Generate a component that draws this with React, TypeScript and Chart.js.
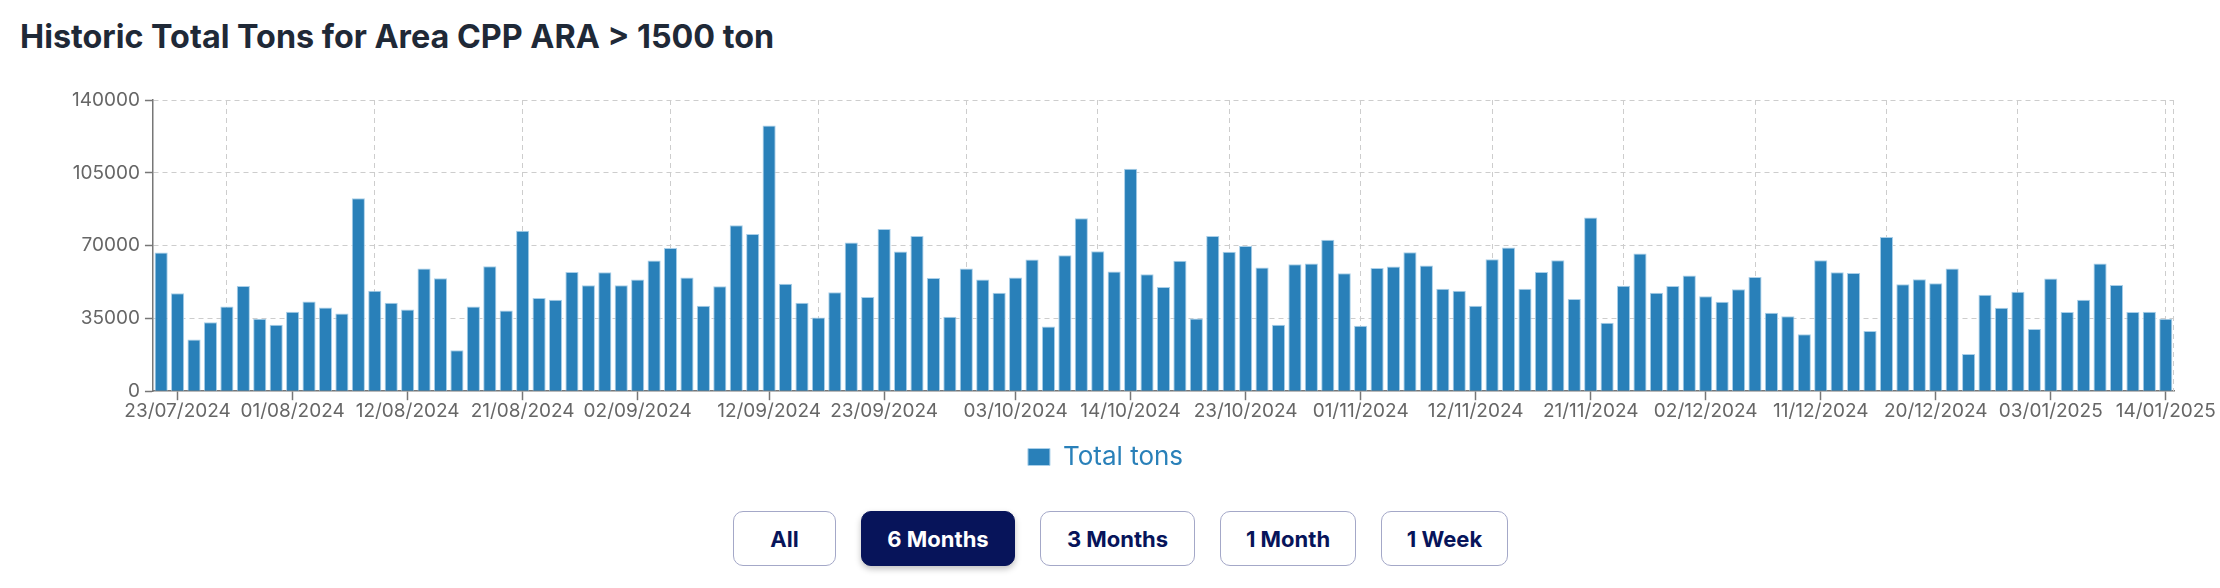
import React, { useEffect, useRef } from 'react';
import { Chart, registerables } from 'chart.js';

Chart.register(...registerables);

// business days shown on the category axis
const dates = [
  '22/07/2024', '23/07/2024', '24/07/2024', '25/07/2024', '26/07/2024',
  '29/07/2024', '30/07/2024', '31/07/2024', '01/08/2024', '02/08/2024',
  '05/08/2024', '06/08/2024', '07/08/2024', '08/08/2024', '09/08/2024',
  '12/08/2024', '13/08/2024', '14/08/2024', '15/08/2024', '16/08/2024',
  '19/08/2024', '20/08/2024', '21/08/2024', '22/08/2024', '23/08/2024',
  '27/08/2024', '28/08/2024', '29/08/2024', '30/08/2024',
  '02/09/2024', '03/09/2024', '04/09/2024', '05/09/2024', '06/09/2024',
  '09/09/2024', '10/09/2024', '11/09/2024', '12/09/2024', '13/09/2024',
  '16/09/2024', '17/09/2024', '18/09/2024', '19/09/2024', '20/09/2024',
  '23/09/2024', '24/09/2024', '25/09/2024', '26/09/2024', '27/09/2024',
  '30/09/2024', '01/10/2024', '02/10/2024', '03/10/2024', '04/10/2024',
  '07/10/2024', '08/10/2024', '09/10/2024', '10/10/2024', '11/10/2024',
  '14/10/2024', '15/10/2024', '16/10/2024', '17/10/2024', '18/10/2024',
  '21/10/2024', '22/10/2024', '23/10/2024', '24/10/2024', '25/10/2024',
  '28/10/2024', '29/10/2024', '30/10/2024', '31/10/2024', '01/11/2024',
  '04/11/2024', '05/11/2024', '06/11/2024', '07/11/2024', '08/11/2024',
  '11/11/2024', '12/11/2024', '13/11/2024', '14/11/2024', '15/11/2024',
  '18/11/2024', '19/11/2024', '20/11/2024', '21/11/2024', '22/11/2024',
  '25/11/2024', '26/11/2024', '27/11/2024', '28/11/2024', '29/11/2024',
  '02/12/2024', '03/12/2024', '04/12/2024', '05/12/2024', '06/12/2024',
  '09/12/2024', '10/12/2024', '11/12/2024', '12/12/2024', '13/12/2024',
  '16/12/2024', '17/12/2024', '18/12/2024', '19/12/2024', '20/12/2024',
  '23/12/2024', '24/12/2024', '27/12/2024', '30/12/2024', '31/12/2024',
  '02/01/2025', '03/01/2025',
  '06/01/2025', '07/01/2025', '08/01/2025', '09/01/2025', '10/01/2025',
  '13/01/2025', '14/01/2025',
];

const totalTons = [
  66700, 47040, 24800, 33190, 40760,
  50590, 34800, 31900, 38180, 43170,
  40280, 37380, 92800, 48330, 42530,
  39310, 58960, 54290, 19650, 40760,
  60090, 38830, 77170, 44790, 43980,
  57350, 50910, 57190, 50910,
  53650, 62830, 68790, 54610, 41080,
  50420, 79740, 75560, 127750, 51710,
  42530, 35440, 47520, 71530, 45270,
  77970, 67180, 74590, 54450, 35760,
  58960, 53650, 47360, 54610, 63310,
  31090, 65410, 83130, 67340, 57510,
  106970, 56220, 50100, 62670, 34960,
  74590, 67020, 69760, 59450, 31900,
  61060, 61380, 72820, 56710, 31410,
  59280, 59930, 66860, 60410, 49300,
  48330, 41080, 63470, 69110, 49300,
  57350, 62990, 44300, 83450, 32860,
  50750, 66210, 47360, 50590, 55580,
  45590, 43010, 48970, 54930, 37700,
  36090, 27390, 62990, 57190, 56870,
  29000, 74110, 51390, 53810, 51870,
  58960, 17880, 46400, 40110, 47850,
  29960, 54130,
  38020, 43980, 61380, 51070, 38020,
  38180, 34800,
];

const shownLabels = [
  '23/07/2024', '01/08/2024', '12/08/2024', '21/08/2024', '02/09/2024',
  '12/09/2024', '23/09/2024', '03/10/2024', '14/10/2024', '23/10/2024',
  '01/11/2024', '12/11/2024', '21/11/2024', '02/12/2024', '11/12/2024',
  '20/12/2024', '03/01/2025', '14/01/2025',
];

// dates where the vertical dashed grid lines fall
const gridDates = [
  '26/07/2024', '08/08/2024', '21/08/2024', '04/09/2024', '17/09/2024',
  '30/09/2024', '10/10/2024', '22/10/2024', '01/11/2024', '13/11/2024',
  '25/11/2024', '05/12/2024', '17/12/2024', '31/12/2024', '14/01/2025',
];

const yTicks = [0, 35000, 70000, 105000, 140000];

const ranges = ['All', '6 Months', '3 Months', '1 Month', '1 Week'];
const activeRange = '6 Months';
const buttonWidths = [103, 154, 155, 136, 127];

const BAR = '#2980b9';
const GRID = '#cdcdcd';
const AXIS = '#777777';
const NAVY = '#07145a';

const rightBorder = {
  id: 'rightBorder',
  beforeDatasetsDraw(chart: any) {
    const { ctx, chartArea } = chart;
    ctx.save();
    ctx.strokeStyle = GRID;
    ctx.lineWidth = 1;
    ctx.setLineDash([5, 4]);
    ctx.beginPath();
    ctx.moveTo(chartArea.right - 0.5, chartArea.top);
    ctx.lineTo(chartArea.right - 0.5, chartArea.bottom);
    ctx.stroke();
    ctx.restore();
  },
};

const TonsChart: React.FC = () => {
  const canvasRef = useRef<HTMLCanvasElement | null>(null);
  const chartRef = useRef<Chart | null>(null);

  useEffect(() => {
    if (!canvasRef.current) return;
    if (chartRef.current) chartRef.current.destroy();

    chartRef.current = new Chart(canvasRef.current, {
      type: 'bar',
      data: {
        labels: dates,
        datasets: [
          {
            label: 'Total tons',
            data: totalTons,
            backgroundColor: BAR,
            borderColor: '#a9cfe9',
            borderWidth: 1,
            barPercentage: 0.8,
            categoryPercentage: 1,
          },
        ],
      },
      options: {
        animation: false,
        responsive: true,
        maintainAspectRatio: false,
        layout: { padding: { left: 37, right: 46, top: 40, bottom: 10 } },
        scales: {
          x: {
            ticks: {
              autoSkip: false,
              maxRotation: 0,
              minRotation: 0,
              padding: 0,
              color: '#666',
              font: { family: 'Inter', size: 19 },
              callback: (_v: any, i: number) => (shownLabels.includes(dates[i]) ? dates[i] : ''),
            },
            grid: {
              offset: false,
              tickLength: 9,
              lineWidth: 1,
              tickWidth: 1.5,
              color: (c: any) => (gridDates.includes(dates[c.index]) ? GRID : 'rgba(0,0,0,0)'),
              tickColor: (c: any) => (shownLabels.includes(dates[c.index]) ? AXIS : 'rgba(0,0,0,0)'),
            },
            border: { color: AXIS, width: 1.5, dash: [5, 4] },
          },
          y: {
            min: 0,
            max: 140000,
            afterBuildTicks: (axis: any) => {
              axis.ticks = yTicks.map((v) => ({ value: v }));
            },
            // extra room on the left so the legend sits centred on the page
            afterFit: (axis: any) => {
              axis.width += 30;
            },
            ticks: {
              padding: 5,
              color: '#666',
              font: { family: 'Inter', size: 19 },
              callback: (v: any) => String(v),
            },
            grid: {
              tickLength: 8,
              tickWidth: 1.5,
              color: (c: any) => (c.index === 0 ? 'rgba(0,0,0,0)' : GRID),
              tickColor: AXIS,
            },
            border: { color: AXIS, width: 1.5, dash: [5, 4] },
          },
        },
        plugins: {
          legend: {
            position: 'bottom',
            labels: {
              color: BAR,
              boxWidth: 22,
              boxHeight: 17,
              padding: 21,
              font: { family: 'Inter', size: 26 },
            },
          },
          tooltip: { enabled: false },
        },
      },
      plugins: [rightBorder],
    });

    return () => {
      if (chartRef.current) {
        chartRef.current.destroy();
        chartRef.current = null;
      }
    };
  }, []);

  return <canvas ref={canvasRef} />;
};

export default function App() {
  return (
    <div
      style={{
        position: 'absolute',
        left: 0,
        top: 0,
        width: 2220,
        height: 588,
        background: '#fff',
        fontFamily: 'Inter, sans-serif',
        overflow: 'hidden',
      }}
    >
      <div
        style={{
          position: 'absolute',
          left: 20,
          top: 21,
          fontSize: 32.3,
          lineHeight: '32px',
          fontWeight: 700,
          color: '#1f2937',
          whiteSpace: 'nowrap',
        }}
      >
        Historic Total Tons for Area CPP ARA &gt; 1500 ton
      </div>
      <div style={{ position: 'absolute', left: 0, top: 60, width: 2220, height: 430 }}>
        <TonsChart />
      </div>
      <div style={{ position: 'absolute', left: 733, top: 511, display: 'flex', gap: 25 }}>
        {ranges.map((r, i) => {
          const active = r === activeRange;
          return (
            <div
              key={r}
              style={{
                width: buttonWidths[i],
                height: 55,
                boxSizing: 'border-box',
                border: `1px solid ${active ? NAVY : '#a4a8c8'}`,
                borderRadius: 10,
                background: active ? NAVY : '#fff',
                color: active ? '#fff' : NAVY,
                fontSize: 22,
                fontWeight: 700,
                display: 'flex',
                alignItems: 'center',
                justifyContent: 'center',
                boxShadow: active ? '0 3px 6px rgba(0,0,0,0.25)' : 'none',
              }}
            >
              {r}
            </div>
          );
        })}
      </div>
    </div>
  );
}
